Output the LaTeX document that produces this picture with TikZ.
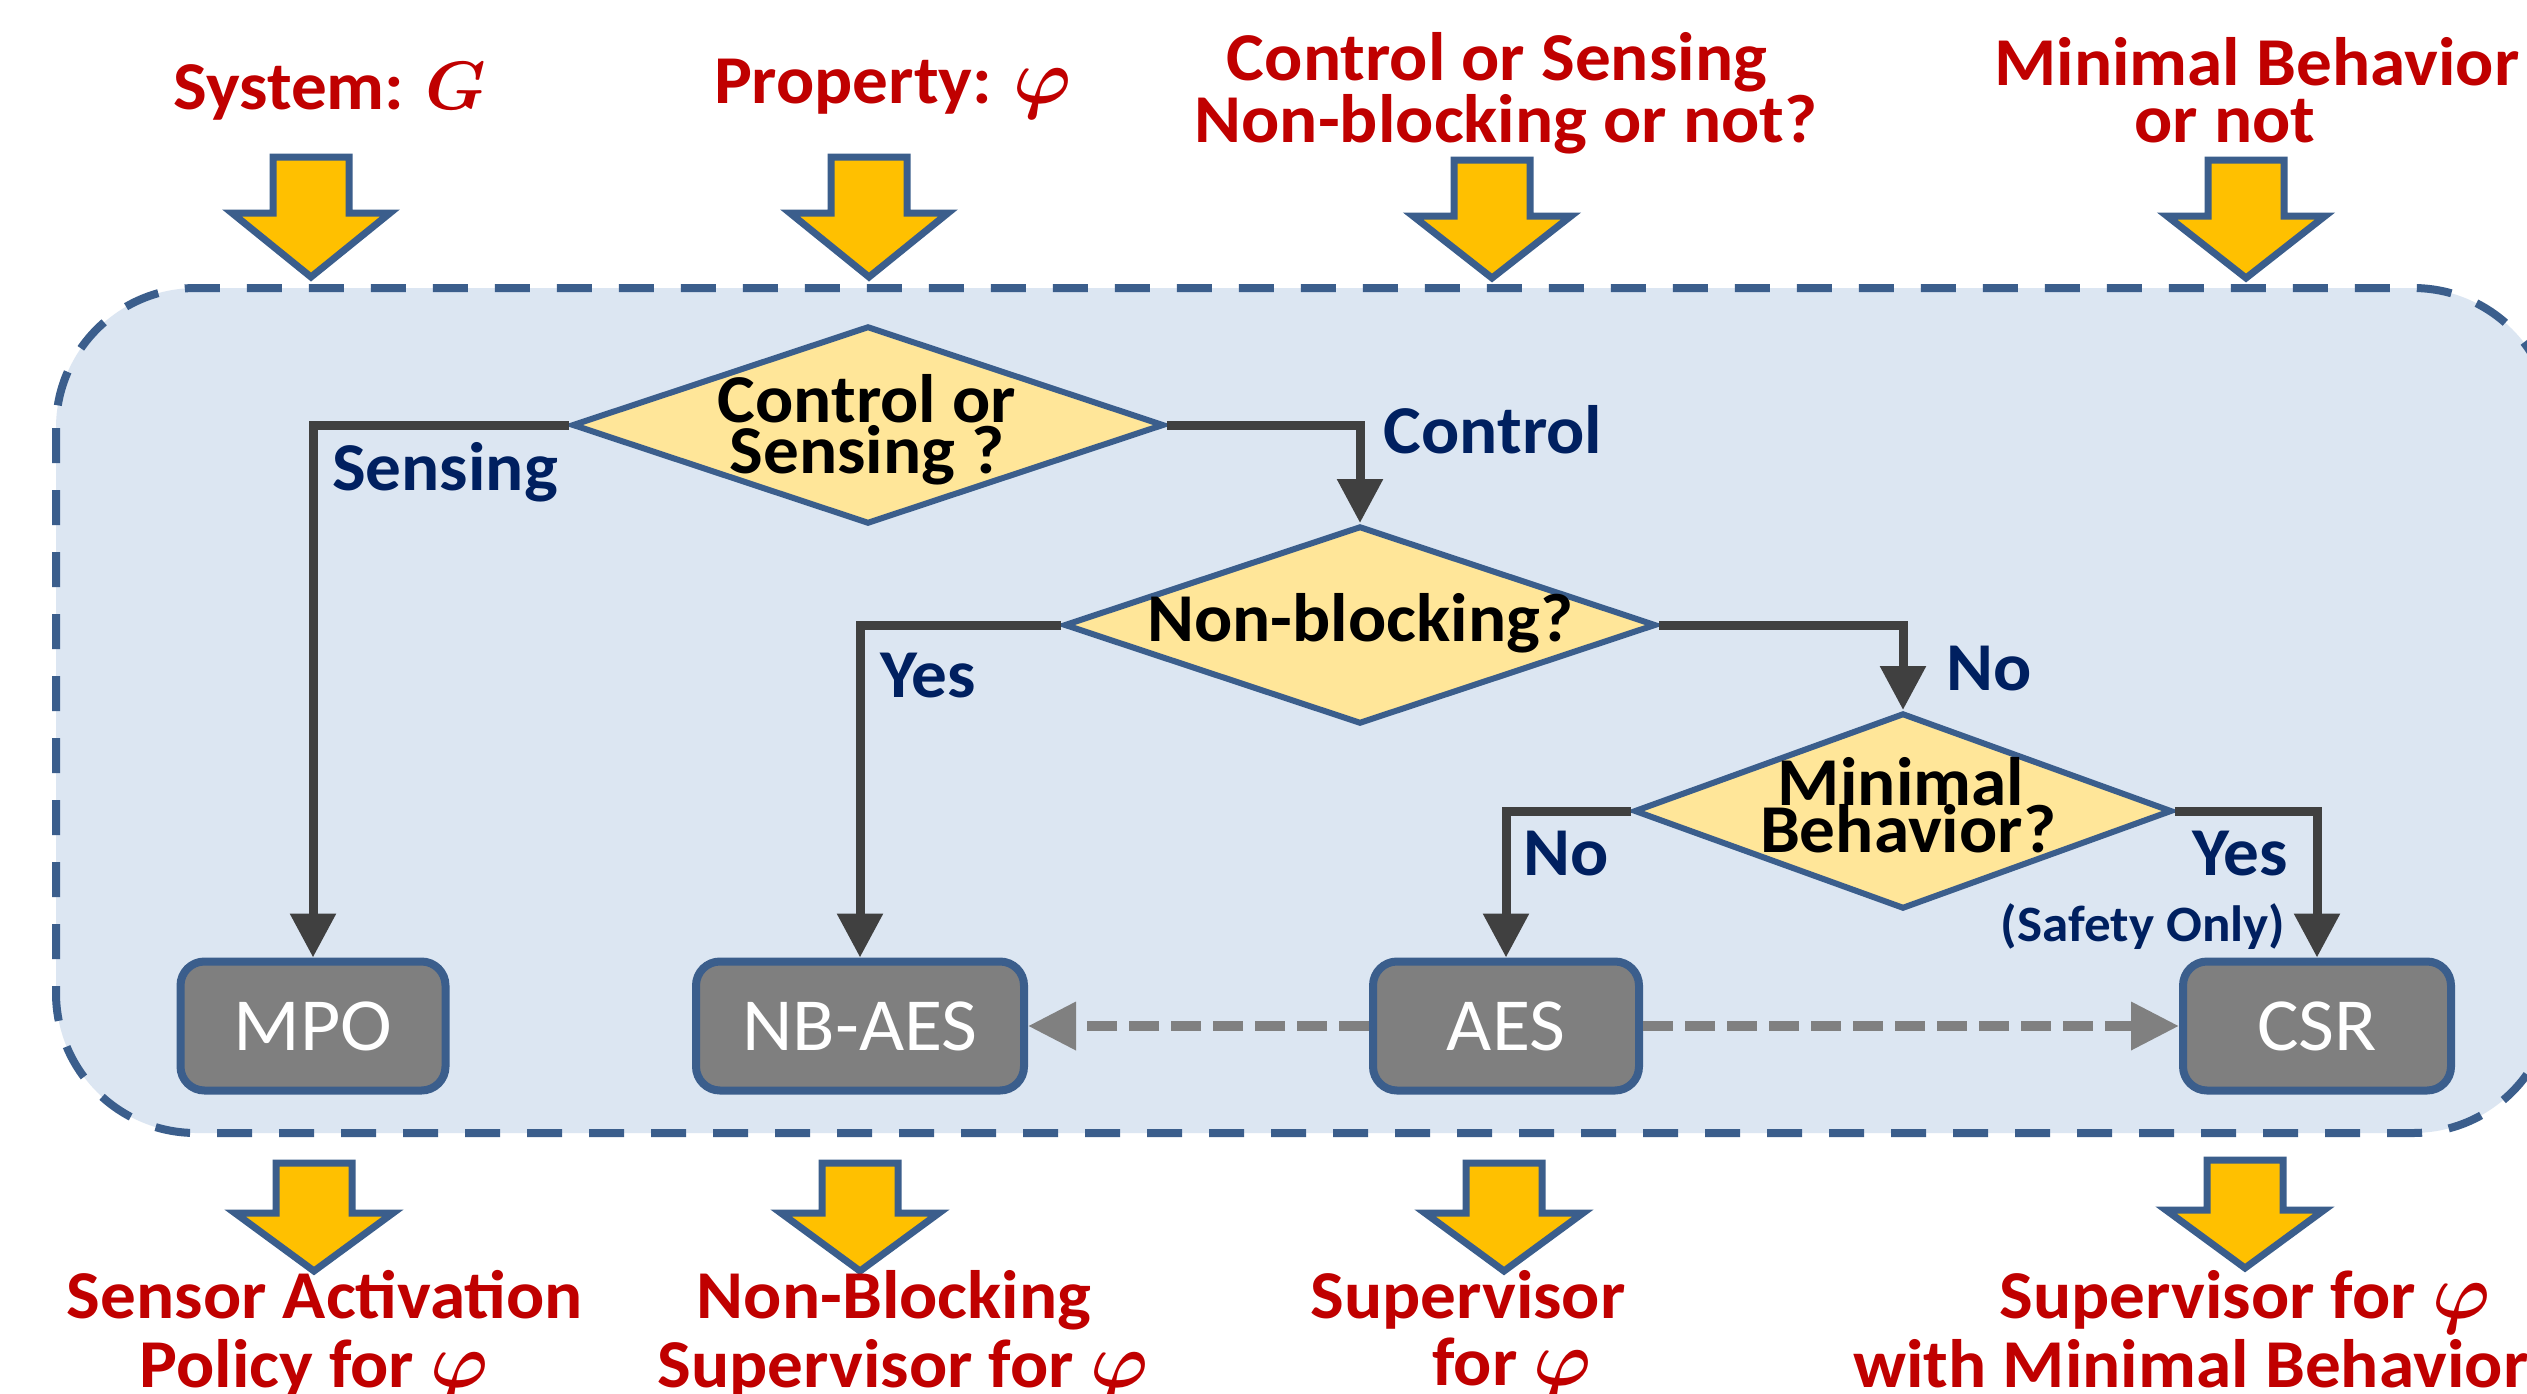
\RequirePackage{fix-cm}
\documentclass[tikz,border=0pt]{standalone}
\usepackage{fontspec}
\setmainfont{Carlito}[FakeStretch=1.04]
\usetikzlibrary{shapes.geometric,arrows.meta}
\definecolor{redc}{HTML}{C00000}
\definecolor{navyc}{HTML}{002060}
\definecolor{bordc}{HTML}{3B5E8C}
\definecolor{dfill}{HTML}{FFE699}
\definecolor{yelc}{HTML}{FFC000}
\definecolor{bgc}{HTML}{DCE6F2}
\definecolor{connc}{HTML}{404040}
\definecolor{boxc}{HTML}{7F7F7F}
\definecolor{gdashc}{HTML}{808080}
\newcommand{\phib}{{\fontsize{78}{78}\selectfont\boldmath$\varphi$}}
\newcommand{\blkarrow}[4]{%
  \draw[blockarr] (#1-38,#2) -- (#1+38,#2) -- (#1+38,#2+#3) -- (#1+79,#2+#3)
    -- (#1,#2+#4) -- (#1-79,#2+#3) -- (#1-38,#2+#3) -- cycle;}
\tikzset{
  bigtxt/.style={font=\fontsize{68.5}{68.5}\selectfont\bfseries, text=redc, anchor=base, inner sep=0pt},
  dtxt/.style={font=\fontsize{68.5}{68.5}\selectfont\bfseries, text=black, anchor=base, inner sep=0pt},
  lbl/.style={font=\fontsize{68.5}{68.5}\selectfont\bfseries, text=navyc, anchor=base, inner sep=0pt},
  smalllbl/.style={font=\fontsize{51}{51}\selectfont\bfseries, text=navyc, anchor=base, inner sep=0pt},
  procbox/.style={rectangle, rounded corners=24pt, draw=bordc, fill=boxc, line width=8pt,
    minimum height=129pt, inner sep=0pt, text=white, font=\fontsize{75}{75}\selectfont},
  dia/.style={diamond, draw=bordc, fill=dfill, line width=6pt, inner sep=0pt, aspect=3},
  conn/.style={draw=connc, line width=9pt, -{Triangle[width=44pt,length=44pt]}},
  gdash/.style={draw=gdashc, line width=10pt, dash pattern=on 30pt off 12pt,
    -{Triangle[width=46pt,length=48pt]}},
  blockarr/.style={draw=bordc, fill=yelc, line width=7pt, line join=miter},
}
\begin{document}
\begin{tikzpicture}[x=1pt,y=-1pt]
\useasboundingbox (0,0) rectangle (2527,1393);
\fill[white] (0,0) rectangle (2527,1393);
% container
\draw[draw=bordc, fill=bgc, line width=8pt, dash pattern=on 35pt off 27pt, rounded corners=140pt]
  (56,288) rectangle (2553,1133);
% input arrows
\blkarrow{311}{157}{56}{120}
\blkarrow{869}{157}{56}{120}
\blkarrow{1492}{160}{56}{118}
\blkarrow{2246}{160}{56}{118}
% output arrows
\blkarrow{314}{1163}{50}{108}
\blkarrow{860}{1163}{50}{108}
\blkarrow{1504}{1163}{50}{108}
\blkarrow{2245}{1160}{50}{108}
% top texts
\node[bigtxt] (tsys) at (330,109) {System: {\boldmath$G$}};
\node[bigtxt] (tprop) at (893,103) {Property: \phib};
\node[bigtxt] (tcs1) at (1497,80) {Control or Sensing};
\node[bigtxt] (tcs2) at (1506,142) {Non-blocking or not?};
\node[bigtxt, anchor=base west] (tmb1) at (1994,85) {Minimal Behavior};
\node[bigtxt] (tmb2) at (2225,142) {or not};
% diamonds
\node[dia, minimum width=592pt, minimum height=198pt] (d1) at (868,425) {};
\node[dia, minimum width=592pt, minimum height=198pt] (d2) at (1360,625) {};
\node[dia, minimum width=538pt, minimum height=196pt] (d3) at (1903,811) {};
\node[dtxt] (d1a) at (867,422) {Control or};
\node[dtxt] (d1b) at (867,473) {Sensing ?};
\node[dtxt] (d2a) at (1360,641) {Non-blocking?};
\node[dtxt] (d3a) at (1901,805) {Minimal};
\node[dtxt] (d3b) at (1908,852) {Behavior?};
% boxes
\node[procbox, minimum width=265pt] (mpo) at (313,1026) {MPO};
\node[procbox, minimum width=328pt] (nb) at (860,1026) {NB-AES};
\node[procbox, minimum width=266pt] (aes) at (1506,1026) {AES};
\node[procbox, minimum width=268pt] (csr) at (2317,1026) {CSR};
% connectors
\draw[conn] (d1.west) -| (mpo.north);
\draw[conn] (d1.east) -| (d2.north);
\draw[conn] (d2.west) -| (nb.north);
\draw[conn] (d2.east) -| (d3.north);
\draw[conn] (d3.west) -| (aes.north);
\draw[conn] (d3.east) -| (csr.north);
\draw[gdash] (aes.west) -- (nb.east);
\draw[gdash] (aes.east) -- (csr.west);
% branch labels
\node[lbl] (lsens) at (445,490) {Sensing};
\node[lbl] (lctrl) at (1493,453) {Control};
\node[lbl] (lyes1) at (928,697) {Yes};
\node[lbl] (lno1) at (1989,690) {No};
\node[lbl] (lno2) at (1566,875) {No};
\node[lbl] (lyes2) at (2240,875) {Yes};
\node[smalllbl] (lsafe) at (2143,941) {(Safety Only)};
% bottom texts
\node[bigtxt] (bsa1) at (325,1318) {Sensor Activation};
\node[bigtxt] (bsa2) at (314,1387) {Policy for \phib};
\node[bigtxt] (bnb1) at (894,1318) {Non-Blocking};
\node[bigtxt] (bnb2) at (903,1387) {Supervisor for \phib};
\node[bigtxt] (bsu1) at (1468,1318) {Supervisor};
\node[bigtxt] (bsu2) at (1512,1385) {for \phib};
\node[bigtxt] (bmb1) at (2245,1318) {Supervisor for \phib};
\node[bigtxt, anchor=base west] (bmb2) at (1853,1387) {with Minimal Behavior};
\end{tikzpicture}
\end{document}
